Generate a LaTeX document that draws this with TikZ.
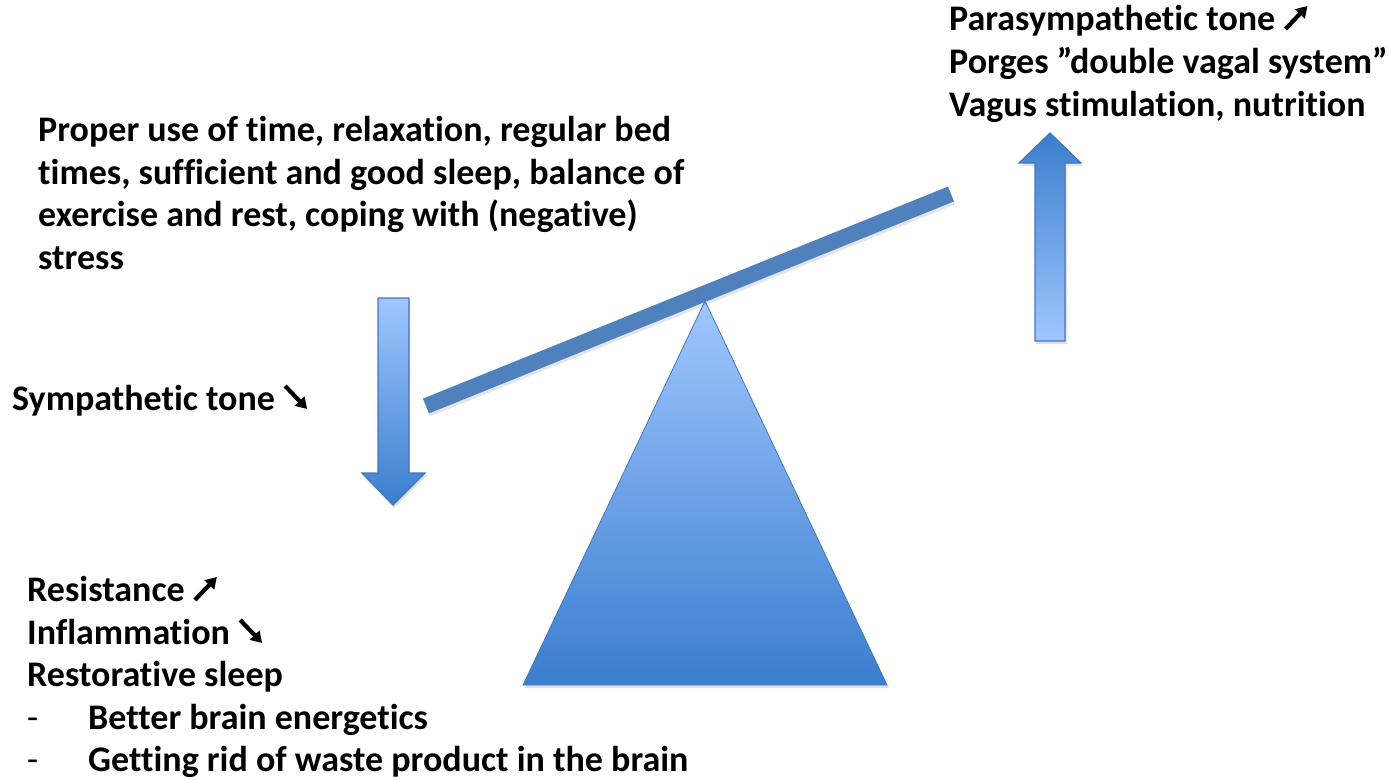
\documentclass[tikz,border=0pt]{standalone}
\usepackage{fontspec}
\usetikzlibrary{calc,arrows.meta}
\setmainfont{Carlito}[RawFeature=-liga]
\definecolor{beamblue}{RGB}{79,129,189}
\definecolor{lightblue}{RGB}{160,198,255}
\definecolor{darkblue}{RGB}{58,126,206}
\definecolor{edgeblue}{RGB}{70,118,180}
\newcommand{\upa}{\tikz[baseline=0pt,x=1pt,y=1pt]{\draw[line width=4.2pt,-{Triangle[length=11pt,width=13pt]}] (0,1) -- (22,24);}}
\newcommand{\dna}{\tikz[baseline=0pt,x=1pt,y=1pt]{\draw[line width=4.2pt,-{Triangle[length=11pt,width=13pt]}] (0,24) -- (22,1);}}
\begin{document}
\begin{tikzpicture}[x=1pt,y=-1pt,
  txt/.style={anchor=base west,inner sep=0pt,font=\fontsize{36}{43}\selectfont\bfseries},
  shapefill/.style={draw=edgeblue,line width=1.2pt,line join=miter},
  shadowstyle/.style={fill=black,opacity=0.12}]
\useasboundingbox (0,0) rectangle (1391,779);

% triangle (fulcrum)
\coordinate (apex) at (705,301);
\coordinate (bl) at (523,685);
\coordinate (br) at (887,685);
\fill[shadowstyle] ($(apex)+(0,3)$) -- ($(bl)+(2,3)$) -- ($(br)+(2,3)$) -- cycle;
\shade[top color=lightblue,bottom color=darkblue] (apex) -- (bl) -- (br) -- cycle;
\draw[draw=edgeblue,line width=0.8pt] (apex) -- (bl) -- (br) -- cycle;

% beam
\coordinate (beamL) at (426,406);
\coordinate (beamR) at (951,194);
\draw[line width=16pt,black,opacity=0.10] ($(beamL)+(1,3)$) -- ($(beamR)+(1,3)$);
\draw[line width=16pt,beamblue] (beamL) -- (beamR);

% down arrow
\fill[shadowstyle] (379,300) -- (410,300) -- (410,475) -- (427,475) -- (394,508) -- (362,475) -- (379,475) -- cycle;
\shade[top color=lightblue,bottom color=darkblue] (378,298) -- (409,298) -- (409,473) -- (425,473) -- (393,505) -- (362,473) -- (378,473) -- cycle;
\draw[shapefill] (378,298) -- (409,298) -- (409,473) -- (425,473) -- (393,505) -- (362,473) -- (378,473) -- cycle;

% up arrow
\fill[shadowstyle] (1036,344) -- (1067,344) -- (1067,166) -- (1083,166) -- (1051,136) -- (1021,166) -- (1036,166) -- cycle;
\shade[top color=darkblue,bottom color=lightblue] (1035,341) -- (1065,341) -- (1065,163) -- (1081,163) -- (1050,133) -- (1019,163) -- (1035,163) -- cycle;
\draw[shapefill] (1035,341) -- (1065,341) -- (1065,163) -- (1081,163) -- (1050,133) -- (1019,163) -- (1035,163) -- cycle;

% top right text
\node[txt] (para) at (949,30) {Parasympathetic tone \upa};
\node[txt] (porges) at (949,73) {Porges ”double vagal system”};
\node[txt] (vagus) at (949,116) {Vagus stimulation, nutrition};

% left text
\node[txt] (l1) at (38,141) {Proper use of time, relaxation, regular bed};
\node[txt] (l2) at (38,184) {times, sufficient and good sleep, balance of};
\node[txt] (l3) at (38,226) {exercise and rest, coping with (negative)};
\node[txt] (l4) at (38,269) {stress};

% sympathetic
\node[txt] (symp) at (12,410) {Sympathetic tone \dna};

% bottom text
\node[txt] (res) at (27,601) {Resistance \upa};
\node[txt] (infl) at (27,644) {Inflammation \dna};
\node[txt] (rest) at (27,686) {Restorative sleep};
\node[txt,font=\fontsize{36}{43}\selectfont\mdseries] (d1) at (27,729) {-};
\node[txt] (b1) at (88,729) {Better brain energetics};
\node[txt,font=\fontsize{36}{43}\selectfont\mdseries] (d2) at (27,771) {-};
\node[txt] (b2) at (88,771) {Getting rid of waste product in the brain};
\end{tikzpicture}
\end{document}
